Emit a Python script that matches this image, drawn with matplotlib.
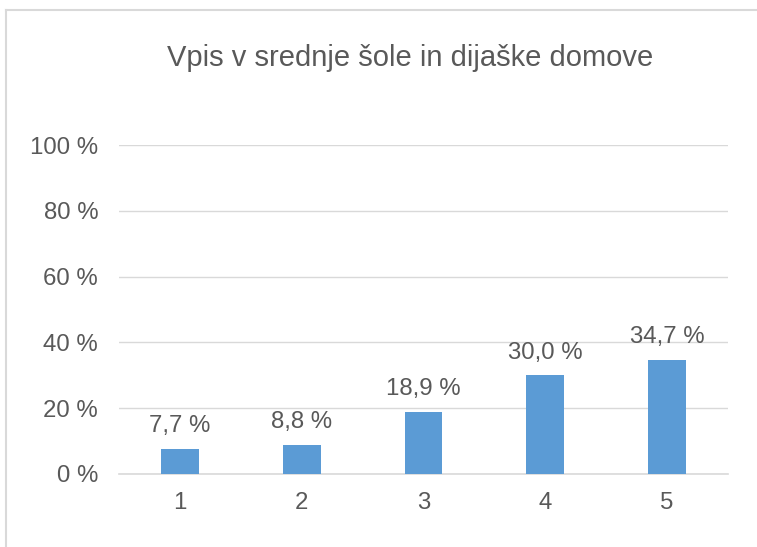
import matplotlib
matplotlib.use("Agg")
import matplotlib.pyplot as plt
from matplotlib.lines import Line2D
from matplotlib.ticker import FuncFormatter

categories = ["1", "2", "3", "4", "5"]
values = [7.7, 8.8, 18.9, 30.0, 34.7]
title = "Vpis v srednje šole in dijaške domove"
yticks = [0, 20, 40, 60, 80, 100]

plt.rcParams['font.family'] = ['Liberation Sans', 'DejaVu Sans']
txt = '#595959'
W, H = 757, 547
fig = plt.figure(figsize=(W/100, H/100), dpi=100)
# outer chart border (only left and top visible in the crop)
fig.lines.append(Line2D([6/W, 6/W], [0, 1-10/H], transform=fig.transFigure,
                        color='#D9D9D9', linewidth=1.5))
fig.lines.append(Line2D([6/W, 1], [1-10/H, 1-10/H], transform=fig.transFigure,
                        color='#D9D9D9', linewidth=1.5))
ax = fig.add_axes([119/W, 1-474/H, (728-119)/W, (474-145)/H])
x = list(range(1, len(categories)+1))
ax.bar(x, values, width=0.31, color='#5B9BD5', zorder=3)
for xi, v in zip(x, values):
    ax.annotate(f"{v:.1f} %".replace('.', ','), (xi, v), xytext=(0, 12),
                textcoords='offset points', ha='center', va='baseline',
                fontsize=17.3, color=txt)
ax.set_xlim(0.5, 5.5)
ax.set_ylim(0, 100)
ax.set_yticks(yticks)
ax.yaxis.set_major_formatter(FuncFormatter(lambda v, p: f"{int(v)} %"))
ax.set_xticks(x)
ax.set_xticklabels(categories)
ax.grid(axis='y', color='#D9D9D9', linewidth=1, zorder=0)
for s in ['top', 'right', 'left']:
    ax.spines[s].set_visible(False)
ax.spines['bottom'].set_color('#D9D9D9')
ax.spines['bottom'].set_linewidth(1.2)
ax.tick_params(axis='both', length=0, labelsize=17.3, labelcolor=txt)
ax.tick_params(axis='x', pad=13)
ax.tick_params(axis='y', pad=15)
fig.text(410/W, 1-58/H, title, ha='center', va='center', fontsize=21, color=txt)
fig.savefig("out.png", dpi=100)
